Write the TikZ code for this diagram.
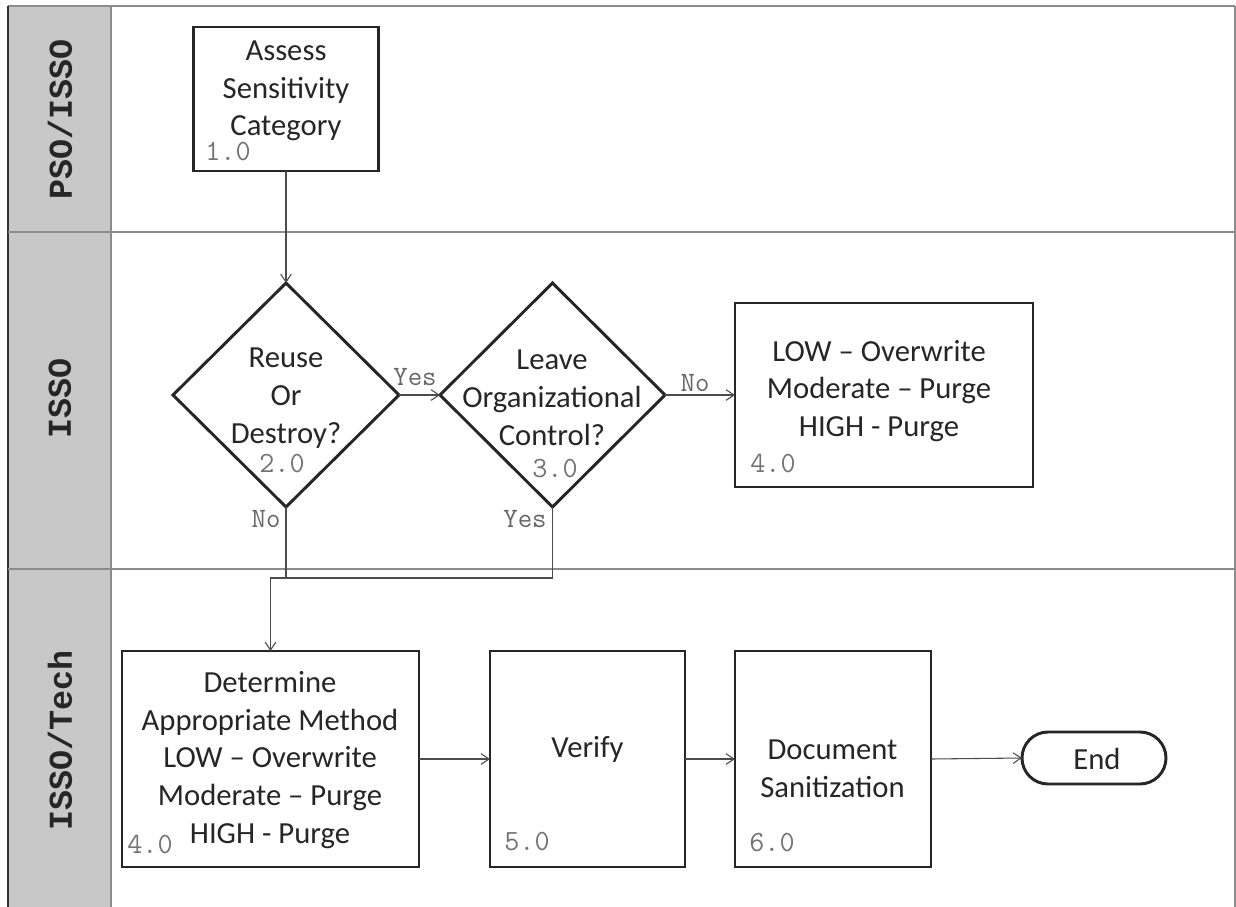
\documentclass[tikz,border=0pt]{standalone}
\usepackage{fontspec}
\setmainfont{Carlito}
\newfontfamily\lanefont{Liberation Mono}
\usetikzlibrary{shapes.geometric,arrows.meta}

\tikzset{
  stepbox/.style={draw=black!85, line width=2.2pt, inner sep=0pt, outer sep=0pt},
  decision/.style={diamond, draw=black!85, line width=2.2pt, inner sep=0pt, outer sep=0pt},
  flow/.style={draw=black!70, line width=0.8pt, -{Straight Barb[length=6pt,width=8pt]}},
  steptext/.style={align=center, text=black!85, font=\fontsize{23}{28.3}\selectfont},
  stepnum/.style={text=black!55, font=\fontsize{22}{24}\ttfamily, inner sep=1pt},
  answer/.style={text=black!60, font=\fontsize{21}{24}\ttfamily},
  lanetext/.style={rotate=90, text=black!85, font=\fontsize{25}{30}\lanefont\bfseries},
  laneline/.style={draw=black!45, line width=0.8pt}
}

\begin{document}
\begin{tikzpicture}[x=0.75pt,y=0.75pt,yscale=-1,xscale=1]
\useasboundingbox (0,0) rectangle (1236,907);

%Shape: Rectangle (lane headers)
\fill [fill={rgb, 255:red, 200; green, 200; blue, 200 }] (8,6) rectangle (111,907);
%Straight Lines (frame)
\draw [laneline] (8,6) -- (1235,6) ;
\draw [laneline] (1235,6) -- (1235,907) ;
\draw [draw=black!80, line width=1.2pt] (8,6) -- (8,907) ;
\draw [laneline] (111,6) -- (111,907) ;
\draw [laneline] (8,232) -- (1235,232) ;
\draw [laneline] (8,569) -- (1235,569) ;

% Text Node
\node [lanetext] (lane1) at (60,119) {PSO/ISSO};
% Text Node
\node [lanetext] (lane2) at (60,398) {ISSO};
% Text Node
\node [lanetext] (lane3) at (60,740) {ISSO/Tech};

%Shape: Rectangle
\node [stepbox, minimum width=138.75pt, minimum height=108pt] (b1) at (286,99) {};
%Shape: Diamond
\node [decision, minimum width=169.5pt, minimum height=168pt] (d2) at (286,395) {};
%Shape: Diamond
\node [decision, minimum width=168.75pt, minimum height=168pt] (d3) at (552.5,395) {};
%Shape: Rectangle
\node [stepbox, minimum width=223.5pt, minimum height=138pt] (b4a) at (884,395) {};
%Shape: Rectangle
\node [stepbox, minimum width=222.75pt, minimum height=162pt] (b4b) at (270.5,759) {};
%Shape: Rectangle
\node [stepbox, minimum width=146.25pt, minimum height=162pt] (b5) at (587.5,759) {};
%Shape: Rectangle
\node [stepbox, minimum width=147pt, minimum height=162pt] (b6) at (833,759) {};
%Shape: Rounded Rectangle
\node [stepbox, rounded corners=19.5pt, minimum width=108pt, minimum height=39pt] (fin) at (1094,758) {};

% Text Node
\node [steptext] (t1) at (286,91) {Assess\\Sensitivity\\Category};
\node [stepnum] (n1) at (228,152) {1.0};
% Text Node
\node [steptext] (t2) at (286,398) {Reuse\\Or\\Destroy?};
\node [stepnum] (n2) at (282,464) {2.0};
% Text Node
\node [steptext] (t3) at (552,398) {Leave\\Organizational\\Control?};
\node [stepnum] (n3) at (555,469) {3.0};
% Text Node
\node [steptext] (t4a) at (879,391) {LOW – Overwrite\\Moderate – Purge\\HIGH - Purge};
\node [stepnum] (n4a) at (773,464) {4.0};
% Text Node
\node [steptext] (t4b) at (270,760) {Determine\\Appropriate Method\\LOW – Overwrite\\Moderate – Purge\\HIGH - Purge};
\node [stepnum] (n4b) at (150,845) {4.0};
% Text Node
\node [steptext] (t5) at (587.5,749) {Verify};
\node [stepnum] (n5) at (527,842) {5.0};
% Text Node
\node [steptext] (t6) at (832.5,769) {Document\\Sanitization};
\node [stepnum] (n6) at (772,843) {6.0};
% Text Node
\node [steptext] (tfin) at (1097,759) {End};

%Straight Lines
\coordinate (join) at (286,578);
\draw [flow] (b1.south) -- (d2.north) ;
\draw [flow] (d2.east) -- (d3.west) ;
\draw [flow] (d3.east) -- (b4a.west) ;
\draw [flow] (d2.south) -- (join) -| (b4b.north) ;
\draw [draw=black!70, line width=0.8pt] (d3.south) |- (join) ;
\draw [flow] (b4b.east) -- (b5.west) ;
\draw [flow] (b5.east) -- (b6.west) ;
\draw [flow] (b6.east) -- (fin.west) ;

% Text Node
\node [answer] (yes1) at (415,377) {Yes};
% Text Node
\node [answer] (no1) at (695,383) {No};
% Text Node
\node [answer] (no2) at (266,519) {No};
% Text Node
\node [answer] (yes2) at (525,519) {Yes};

\end{tikzpicture}
\end{document}
